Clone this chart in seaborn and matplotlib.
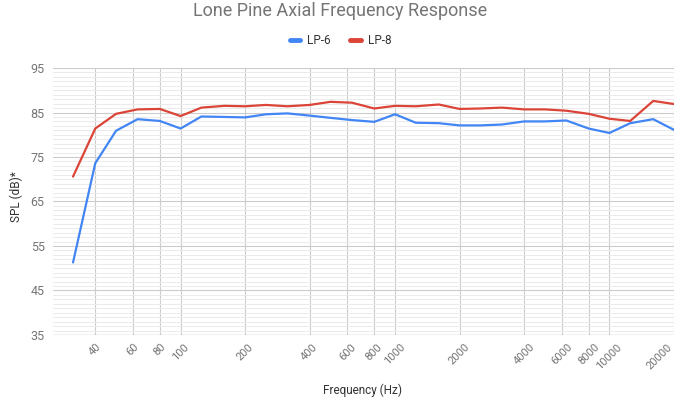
import pandas as pd
import seaborn as sns
import matplotlib.pyplot as plt
from matplotlib.ticker import MultipleLocator, NullLocator, FixedLocator

freq = [31.5, 40, 50, 63, 80, 100, 125, 160, 200, 250, 315, 400, 500, 630, 800,
        1000, 1250, 1600, 2000, 2500, 3150, 4000, 5000, 6300, 8000, 10000,
        12500, 16000, 20000]
lp6 = [51.3, 73.6, 80.9, 83.5, 83.1, 81.4, 84.1, 84.0, 83.9, 84.6, 84.8, 84.3,
       83.8, 83.3, 82.9, 84.6, 82.7, 82.6, 82.1, 82.1, 82.3, 83.0, 83.0, 83.2,
       81.4, 80.4, 82.6, 83.5, 81.1]
lp8 = [70.6, 81.4, 84.7, 85.7, 85.8, 84.2, 86.1, 86.5, 86.4, 86.7, 86.4, 86.7,
       87.4, 87.2, 85.9, 86.5, 86.4, 86.8, 85.8, 85.9, 86.1, 85.7, 85.7, 85.4,
       84.7, 83.6, 83.1, 87.6, 86.9]
xticks = [40, 60, 80, 100, 200, 400, 600, 800, 1000, 2000, 4000, 6000, 8000,
          10000, 20000]
yticks = [35, 45, 55, 65, 75, 85, 95]

df = pd.DataFrame({
    "Frequency": freq * 2,
    "SPL": lp6 + lp8,
    "Series": ["LP-6"] * len(freq) + ["LP-8"] * len(freq),
})

sns.set_style("white")
plt.rcParams["font.family"] = ["Roboto", "DejaVu Sans"]

fig = plt.figure(figsize=(6.81, 3.97), dpi=100)
ax = fig.add_axes([0.0778, 0.1562, 0.9119, 0.6725])

sns.lineplot(data=df, x="Frequency", y="SPL", hue="Series",
             palette={"LP-6": "#4285F4", "LP-8": "#DB4437"},
             linewidth=1.6, ax=ax, legend=False, zorder=3)

ax.set_xscale("log")
ax.set_xlim(25.4, 20000)
ax.set_ylim(35, 95)
ax.xaxis.set_major_locator(FixedLocator(xticks))
ax.xaxis.set_minor_locator(NullLocator())
ax.set_xticklabels([str(t) for t in xticks], rotation=45, ha="center",
                   color="#757575", fontsize=8)
# last label would run off the right edge
ax.get_xticklabels()[-1].set_ha("right")
ax.set_yticks(yticks)
ax.set_yticklabels([str(t) for t in yticks], color="#757575", fontsize=9)
ax.yaxis.set_minor_locator(MultipleLocator(1))
ax.tick_params(axis="both", which="both", length=0)
ax.tick_params(axis="x", pad=5)
ax.tick_params(axis="y", pad=6)

ax.grid(True, which="major", axis="both", color="#cccccc", linewidth=0.8)
ax.grid(True, which="minor", axis="y", color="#ebebeb", linewidth=0.7)
for s in ax.spines.values():
    s.set_visible(False)
ax.axhline(35, color="#cccccc", linewidth=1.0, zorder=2)

ax.set_xlabel("")
ax.set_ylabel("")
fig.text(0.533, 0.018, "Frequency (Hz)", ha="center", va="center",
         color="#333333", fontsize=8.5)
fig.text(0.024, 0.505, "SPL (dB)*", ha="center", va="center", rotation=90,
         color="#333333", fontsize=8.5)

fig.suptitle("Lone Pine Axial Frequency Response", x=0.5, y=0.995,
             color="#757575", fontsize=13)

handles = [plt.Line2D([], [], color="#4285F4", linewidth=3.5),
           plt.Line2D([], [], color="#DB4437", linewidth=3.5)]
fig.legend(handles, ["LP-6", "LP-8"], loc="center", bbox_to_anchor=(0.5, 0.897),
           ncol=2, frameon=False, fontsize=8.5, handlelength=0.9,
           handletextpad=0.6, columnspacing=1.6, labelcolor="#333333")

fig.savefig("out.png", dpi=100)
